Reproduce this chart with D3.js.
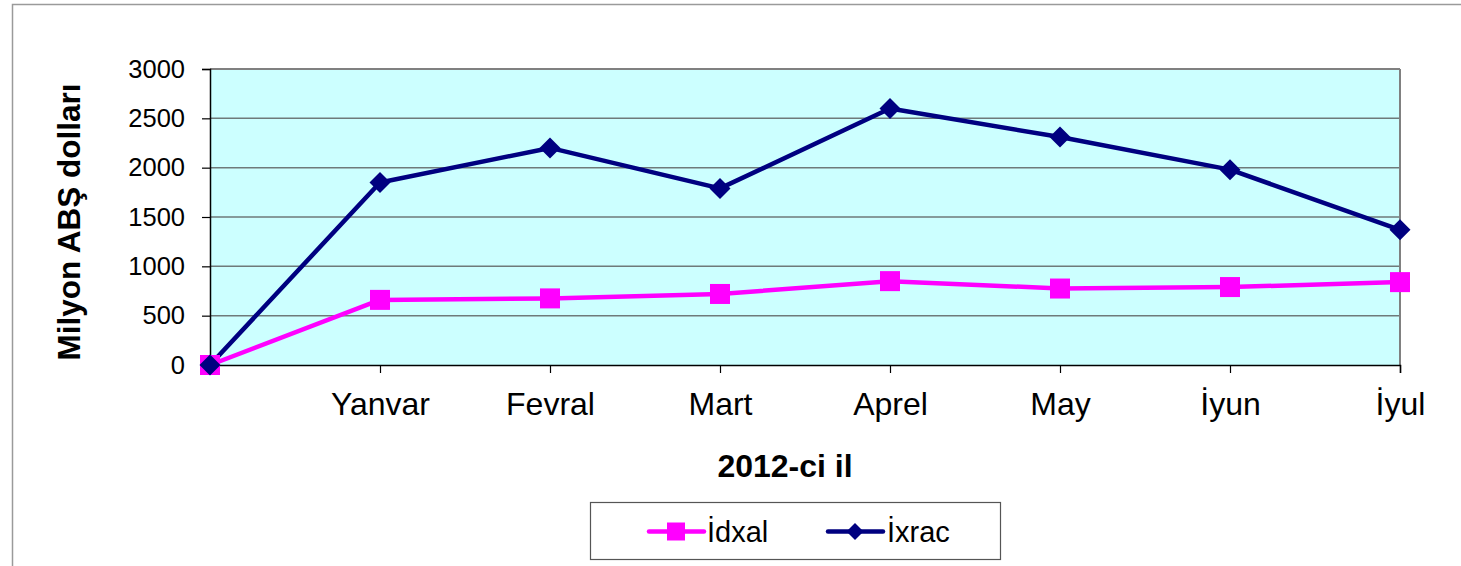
<!DOCTYPE html>
<html><head><meta charset="utf-8">
<script src="https://cdn.jsdelivr.net/npm/d3@7"></script>
<style>body{margin:0;background:#fff}svg{display:block;font-family:Arial,"Liberation Sans",sans-serif}</style>
</head><body>
<svg id="c" width="1461" height="566"></svg>
<script>
const categories = ["", "Yanvar", "Fevral", "Mart", "Aprel", "May", "İyun", "İyul"];
const idxal = [0, 660, 675, 720, 850, 775, 790, 840];
const ixrac = [0, 1850, 2200, 1790, 2600, 2310, 1980, 1370];
const yTicks = [0, 500, 1000, 1500, 2000, 2500, 3000];
const seriesNames = ["İdxal", "İxrac"];

const svg = d3.select("#c");
const L = 210, R = 1400, T = 69, B = 365;
const x = d3.scalePoint().domain(categories).range([L, R]);
const y = d3.scaleLinear().domain([0, 3000]).range([B, T]);

// outer frame
svg.append("rect").attr("x", 12.5).attr("y", 4.5).attr("width", 1480).attr("height", 700)
  .attr("fill", "#fff").attr("stroke", "#9a9a9a").attr("stroke-width", 1.5);

// plot background
svg.append("rect").attr("x", L).attr("y", T).attr("width", R - L).attr("height", B - T)
  .attr("fill", "#CCFFFF");

// gridlines
svg.append("g").selectAll("line").data(yTicks.filter(d => d > 0)).join("line")
  .attr("x1", L).attr("x2", R).attr("y1", d => y(d)).attr("y2", d => y(d))
  .attr("stroke", d => d === 3000 ? "#808080" : "#6e7a7a").attr("stroke-width", d => d === 3000 ? 2 : 1.5);
// right border
svg.append("line").attr("x1", R).attr("x2", R).attr("y1", T).attr("y2", B)
  .attr("stroke", "#808080").attr("stroke-width", 2);

// y axis
const yAxis = d3.axisLeft(y).tickValues(yTicks).tickSize(8).tickPadding(17).tickFormat(d3.format("d"));
const gy = svg.append("g").attr("transform", `translate(${L},0)`).call(yAxis);
gy.select(".domain").attr("stroke", "#000").attr("stroke-width", 1.5);
gy.selectAll(".tick line").attr("stroke", "#000").attr("stroke-width", 1.2);
gy.selectAll(".tick text").attr("font-size", 25.5).attr("fill", "#000")
  .attr("font-family", "Arial, 'Liberation Sans', sans-serif");

// x axis
const xAxis = d3.axisBottom(x).tickSize(8).tickPadding(19);
const gx = svg.append("g").attr("transform", `translate(0,${B})`).call(xAxis);
gx.select(".domain").attr("stroke", "#000").attr("stroke-width", 1.5);
gx.selectAll(".tick line").attr("stroke", "#000").attr("stroke-width", 1.2);
gx.selectAll(".tick text").attr("font-size", 32).attr("fill", "#000")
  .attr("font-family", "Arial, 'Liberation Sans', sans-serif");

// axis titles
svg.append("text").attr("x", 785).attr("y", 477).attr("text-anchor", "middle")
  .attr("font-size", 32).attr("font-weight", "bold").text("2012-ci il");
svg.append("text").attr("transform", "translate(80,222) rotate(-90)").attr("text-anchor", "middle")
  .attr("font-size", 31.5).attr("font-weight", "bold").text("Milyon ABŞ dolları");

// lines
const line = d3.line().x((d, i) => x(categories[i])).y(d => y(d));
const diamond = s => `M0,${-s}L${s},0L0,${s}L${-s},0Z`;

svg.append("path").datum(idxal).attr("d", line).attr("fill", "none")
  .attr("stroke", "#FF00FF").attr("stroke-width", 4.5).attr("stroke-linejoin", "round");
svg.append("path").datum(ixrac).attr("d", line).attr("fill", "none")
  .attr("stroke", "#000080").attr("stroke-width", 4.5).attr("stroke-linejoin", "round");

svg.append("g").selectAll("rect").data(idxal).join("rect")
  .attr("x", (d, i) => x(categories[i]) - 10).attr("y", d => y(d) - 10)
  .attr("width", 20).attr("height", 20).attr("fill", "#FF00FF");
svg.append("g").selectAll("path").data(ixrac).join("path")
  .attr("transform", (d, i) => `translate(${x(categories[i])},${y(d)})`)
  .attr("d", diamond(10.5)).attr("fill", "#000080");

// legend
svg.append("rect").attr("x", 590.5).attr("y", 502.5).attr("width", 410).attr("height", 57)
  .attr("fill", "#fff").attr("stroke", "#555").attr("stroke-width", 1.2);
const lg = svg.append("g");
const ly = 531.5;
lg.append("line").attr("x1", 649).attr("x2", 704).attr("y1", ly).attr("y2", ly)
  .attr("stroke", "#FF00FF").attr("stroke-width", 4.5).attr("stroke-linecap", "round");
lg.append("rect").attr("x", 667).attr("y", ly - 9).attr("width", 18).attr("height", 18).attr("fill", "#FF00FF");
lg.append("text").attr("x", 707).attr("y", 541.5).attr("font-size", 29).text(seriesNames[0]);
lg.append("line").attr("x1", 828).attr("x2", 883).attr("y1", ly).attr("y2", ly)
  .attr("stroke", "#000080").attr("stroke-width", 4.5).attr("stroke-linecap", "round");
lg.append("path").attr("transform", `translate(855,${ly})`).attr("d", diamond(8.5)).attr("fill", "#000080");
lg.append("text").attr("x", 887).attr("y", 541.5).attr("font-size", 29).text(seriesNames[1]);
</script>
</body></html>
